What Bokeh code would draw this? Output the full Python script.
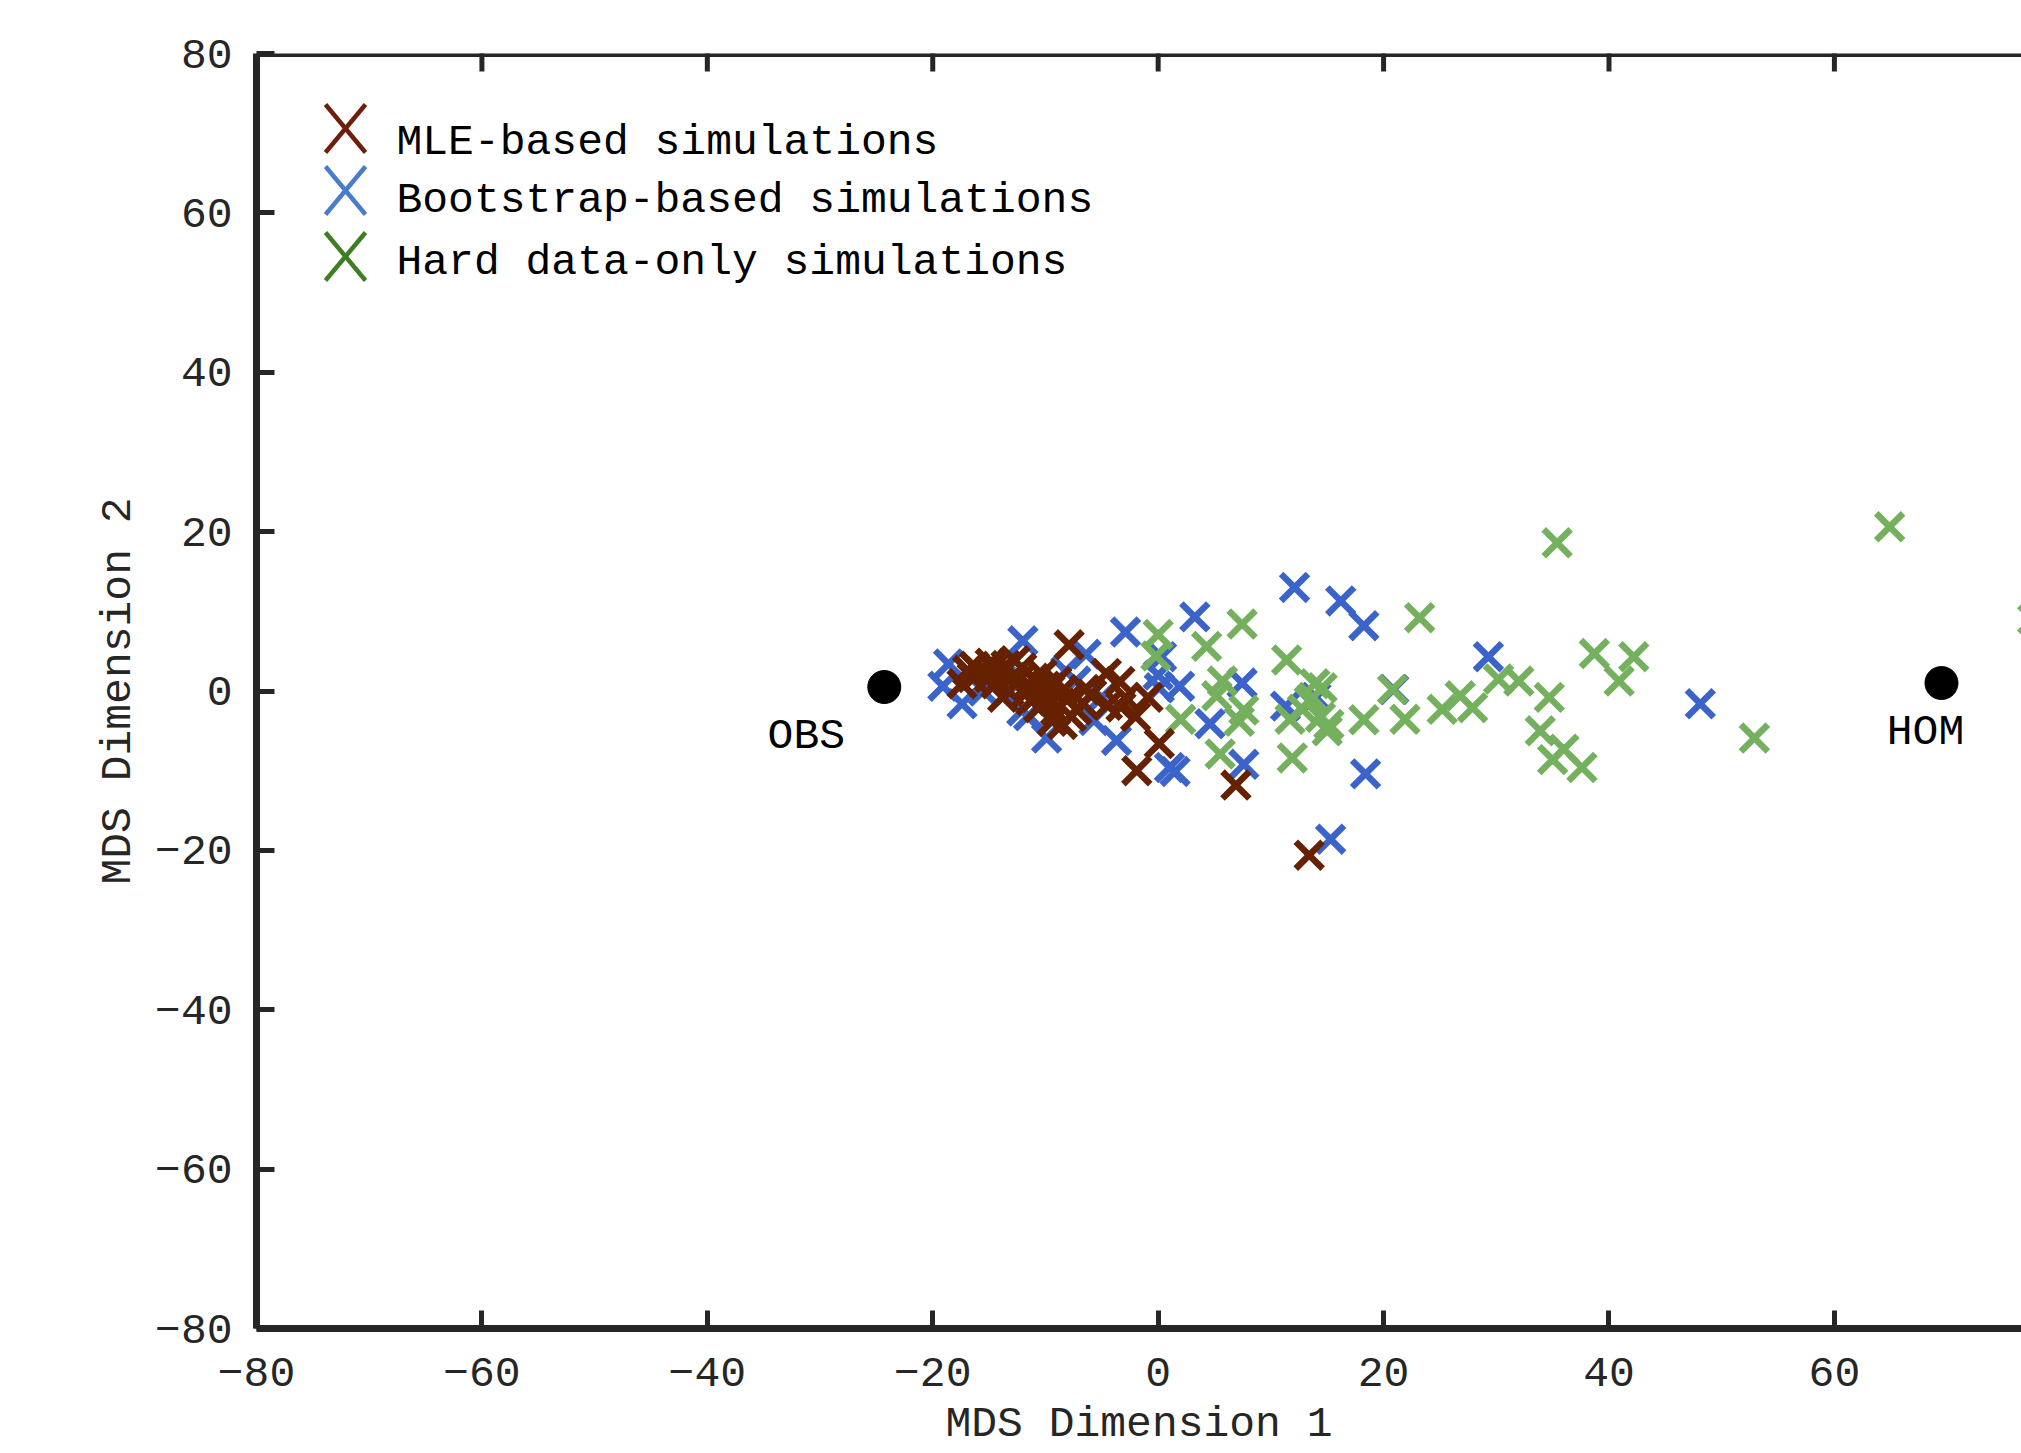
import math
from bokeh.plotting import figure
from bokeh.models import Range1d, FixedTicker, Label, ColumnDataSource, Span, PolyAnnotation
from bokeh.core.properties import value
from bokeh.embed import file_html
from bokeh.resources import INLINE

# ---------------- data ----------------
mle_x = [-17.4, -16.9, -16.3, -16.5, -15.8, -15.0, -14.9, -14.6, -14.4, -14.0,
         -13.8, -13.5, -13.25, -13.0, -12.7, -12.4, -12.1, -11.8, -11.5, -11.3,
         -11.0, -10.9, -10.6, -10.3, -10.2, -10.0, -9.7, -9.6, -9.4, -9.1,
         -9.0, -8.5, -8.5, -8.0, -7.9, -7.7, -7.2, -6.7, -6.5, -5.9,
         -4.6, -4.5, -3.4, -3.3, -2.9, -2.0, -0.9, 0.1, -1.9, 6.9, 13.4]
mle_y = [0.9, 2.6, 3.1, 1.7, 2.4, 1.7, 3.5, 2.9, 0.9, 2.5,
         -0.8, 3.2, 0.0, 1.7, 3.8, 1.3, 2.9, -0.4, 0.85, -1.2,
         1.6, -0.8, -2.1, 2.1, -1.5, 0.6, -0.8, 0.2, -3.8, -2.5,
         1.2, 0.0, -4.2, -1.0, 5.8, -3.2, -2.4, -1.5, 0.2, -0.4,
         2.2, -1.8, 1.2, -2.0, -0.8, -3.2, -0.8, -6.6, -10.0, -11.8, -20.6]

boot_x = [12.1, 16.2, 18.25, 3.25, -2.9, 29.3, 20.9, 18.4, 0.0, 1.9,
          7.45, 4.6, 7.6, 1.0, 1.5, 11.3, 14.0, -3.7, 15.3, 48.1,
          -12.0, -6.4, -18.6, -19.1, -17.4, -9.9, -11.5, -5.7, -15.5, -7.3,
          -8.2, 0.1, -5.0, -12.1, 0.3, -14.0, -10.0]
boot_y = [13.0, 11.3, 8.2, 9.3, 7.4, 4.3, 0.2, -10.4, 2.0, 0.6,
          1.0, -4.1, -9.2, -9.6, -10.1, -1.9, -0.8, -6.2, -18.6, -1.6,
          6.3, 4.6, 3.4, 0.6, -1.6, -5.9, -3.1, -3.7, 0.0, 1.25,
          2.5, 0.4, -0.8, -2.5, 4.3, 1.5, -1.0]

hard_x = [35.4, 23.2, 7.45, 0.0, 4.3, 11.4, -0.2, 5.7, 5.2, 7.6,
          7.2, 2.0, 5.5, 11.9, 11.7, 14.55, 12.8, 13.7, 15.15, 14.4,
          18.25, 20.8, 21.9, 25.2, 26.8, 27.9, 30.2, 32.0, 34.7, 38.7,
          33.9, 36.0, 35.0, 37.6, 13.4, 15.0, 42.2, 40.9, 52.9, 64.9,
          77.6, 13.9]
hard_y = [18.6, 9.2, 8.4, 7.1, 5.6, 3.9, 4.4, 1.25, -0.6, -2.4,
          -3.8, -3.55, -7.9, -8.4, -3.55, 0.4, -2.3, -0.8, -4.2, -3.3,
          -3.6, 0.2, -3.55, -2.3, -0.6, -2.1, 1.5, 1.25, -0.8, 4.7,
          -5.0, -7.3, -8.6, -9.6, -1.25, -5.0, 4.3, 1.25, -5.9, 20.6,
          9.0, 0.9]

ref_names = ["OBS", "HOM"]
ref_x = [-24.3, 69.5]
ref_y = [0.5, 1.0]

series_labels = ["MLE-based simulations", "Bootstrap-based simulations",
                 "Hard data-only simulations"]
axis_ticks = [-80, -60, -40, -20, 0, 20, 40, 60, 80]

# ---------------- styles ----------------
FONT = "Liberation Mono"
FS = "43px"
AX = "#262626"
C_MLE, C_BOOT, C_HARD = "#652100", "#3a64c9", "#74b05e"
L_MLE, L_BOOT, L_HARD = "#6e1e0c", "#4a7dc9", "#3f7e22"
MSIZE = 38
MLW = 6.5

p = figure(width=2021, height=1453, output_backend="svg", toolbar_location=None,
           x_range=Range1d(-80, 76.6), y_range=Range1d(-80, 80),
           min_border_left=256, min_border_top=53, min_border_bottom=125,
           min_border_right=0,
           x_axis_label="MDS Dimension 1", y_axis_label="MDS Dimension 2")
p.grid.visible = False
p.outline_line_color = None
p.background_fill_color = "white"
p.border_fill_color = "white"

xax = p.below[0]
yax = p.left[0]
for ax in [xax, yax]:
    ax.ticker = FixedTicker(ticks=axis_ticks)
    ax.axis_line_width = 7
    ax.axis_line_color = AX
    ax.major_tick_in = 18
    ax.major_tick_out = 0
    ax.major_tick_line_width = 5
    ax.major_tick_line_color = AX
    ax.minor_tick_line_color = None
    ax.major_label_text_font = FONT
    ax.major_label_text_font_size = FS
    ax.major_label_text_color = AX
    ax.axis_label_text_font = FONT
    ax.axis_label_text_font_size = FS
    ax.axis_label_text_font_style = "normal"
    ax.axis_label_text_color = AX

xax.major_label_standoff = 29
xax.axis_label_standoff = 11
yax.major_label_standoff = 24
yax.axis_label_standoff = 9

# top border of the box with inward ticks
p.add_layout(Span(location=80, dimension="width", line_color=AX, line_width=7))
p.scatter(axis_ticks, [80] * len(axis_ticks), marker="dash", angle=math.pi / 2,
          size=36, line_width=5, line_color=AX)

# ---------------- marks ----------------
p.scatter(boot_x, boot_y, marker="x", size=MSIZE, line_width=MLW, line_color=C_BOOT)
p.scatter(hard_x, hard_y, marker="x", size=MSIZE, line_width=MLW, line_color=C_HARD)
p.scatter(mle_x, mle_y, marker="x", size=MSIZE, line_width=MLW, line_color=C_MLE)

p.scatter(ref_x, ref_y, marker="circle", size=33, fill_color="black", line_color="black")
ref_src = ColumnDataSource(dict(x=ref_x, y=ref_y, name=ref_names,
                                dx=[-78, -16], dy=[49, 49]))
p.text(x="x", y="y", text="name", x_offset="dx", y_offset="dy", source=ref_src,
       text_font=value(FONT), text_font_size=value(FS), text_color="black",
       text_align="center", text_baseline="middle")

# ---------------- legend ----------------
leg_colors = [L_MLE, L_BOOT, L_HARD]
text_rows = [1186, 1128, 1066]
mark_rows = [1200, 1138, 1072]
MX, HW, HH = 89, 20, 24
for lab, col, ty, my in zip(series_labels, leg_colors, text_rows, mark_rows):
    for sgn in (1, -1):
        p.add_layout(PolyAnnotation(xs=[MX - HW, MX + HW], ys=[my - sgn * HH, my + sgn * HH],
                                    xs_units="screen", ys_units="screen",
                                    fill_alpha=0, line_color=col, line_alpha=1.0,
                                    line_width=4.5))
    p.add_layout(Label(x=140, y=ty, x_units="screen", y_units="screen", text=lab,
                       text_font=FONT, text_font_size=FS, text_color="black",
                       text_align="left", text_baseline="middle"))

open("out.html", "w").write(file_html(p, INLINE))
